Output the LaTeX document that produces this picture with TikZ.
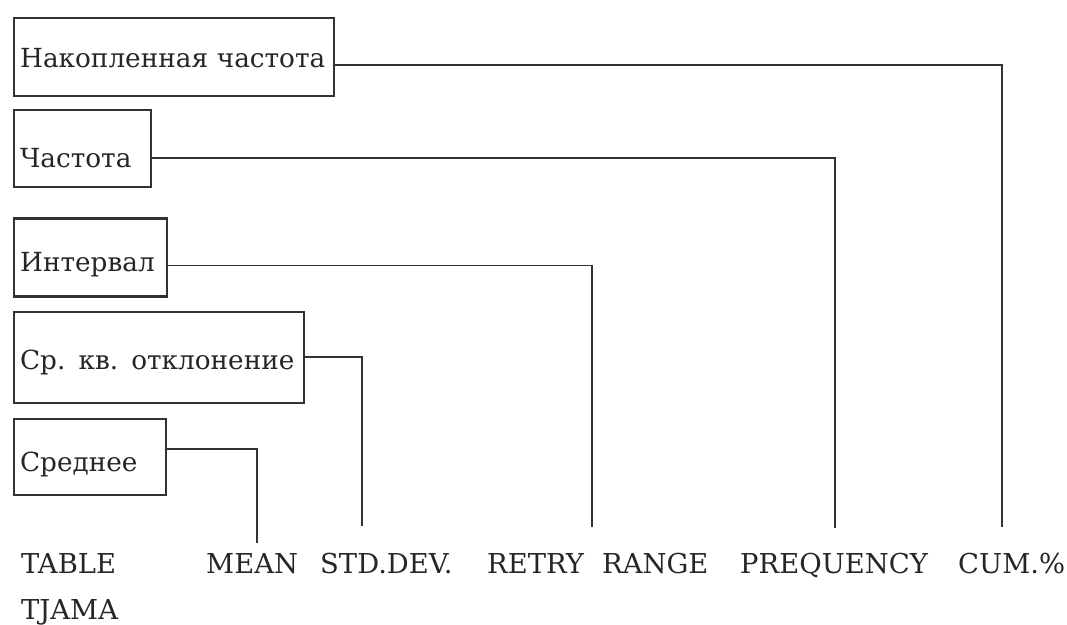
\documentclass[tikz,border=0pt]{standalone}
\usepackage{fontspec}
\setmainfont{DejaVu Serif}
\usetikzlibrary{positioning}
\definecolor{cLine}{RGB}{50,50,50}
\newcommand{\fieldfont}{\fontsize{26.3}{30}\selectfont}
\newcommand{\keyfont}{\fontsize{27.4}{30}\selectfont}
\tikzset{
  fieldbox/.style={rectangle,draw=cLine,line width=2.2pt,
                   inner xsep=6pt,inner ysep=0pt,align=left,font=\fieldfont,
                   text=black!85},
  textdrop/.style={text height=#1,text depth=6.4pt},
  keyword/.style={anchor=base west,inner sep=0pt,font=\keyfont,text=black!85},
  link/.style={draw=cLine,line width=1.9pt}
}

\begin{document}
\begin{tikzpicture}[x=1pt,y=-1pt]
  \useasboundingbox (0,0) rectangle (1067,624);

  \node[fieldbox,textdrop=27.8pt,anchor=north west,text width=308pt,
        minimum height=78pt] (cum) at (13,17) {Накопленная частота};
  \node[fieldbox,textdrop=43.8pt,text width=125pt,minimum height=77pt,
        below right=12pt and 0pt of cum.south west] (freq) {Частота};
  \node[fieldbox,textdrop=33.8pt,text width=141pt,minimum height=78pt,
        below right=29pt and 0pt of freq.south west] (range) {Интервал};
  \node[fieldbox,textdrop=31.8pt,text width=278pt,minimum height=91pt,
        below right=13pt and 0pt of range.south west] (stddev) {Ср. кв. отклонение};
  \node[fieldbox,textdrop=35.8pt,text width=140pt,minimum height=76pt,
        below right=14pt and 0pt of stddev.south west] (mean) {Среднее};

  \node[keyword] (table)  at (21,573)  {TABLE};
  \node[keyword] (tjama)  at (21,619)  {TJAMA};
  \node[keyword] (kmean)  at (206,573) {MEAN};
  \node[keyword] (kstd)   at (320,573) {STD.DEV.};
  \node[keyword] (kretry) at (487,573) {RETRY};
  \node[keyword] (krange) at (602,573) {RANGE};
  \node[keyword] (kfreq)  at (740,573) {PREQUENCY};
  \node[keyword] (kcum)   at (958,573) {CUM.\%};

  \coordinate (cumfoot)   at (1002,527);
  \coordinate (freqfoot)  at (835,528);
  \coordinate (rangefoot) at (592,527);
  \coordinate (stdfoot)   at (362,526);
  \coordinate (meanfoot)  at (257,543);

  \draw[link] ([yshift=-8pt]cum.east) -| (cumfoot);
  \draw[link] ([yshift=-9pt]freq.east) -| (freqfoot);
  \draw[link] ([yshift=-8pt]range.east) -| (rangefoot);
  \draw[link] (stddev.east) -| (stdfoot);
  \draw[link] ([yshift=8pt]mean.east) -| (meanfoot);

\end{tikzpicture}
\end{document}
